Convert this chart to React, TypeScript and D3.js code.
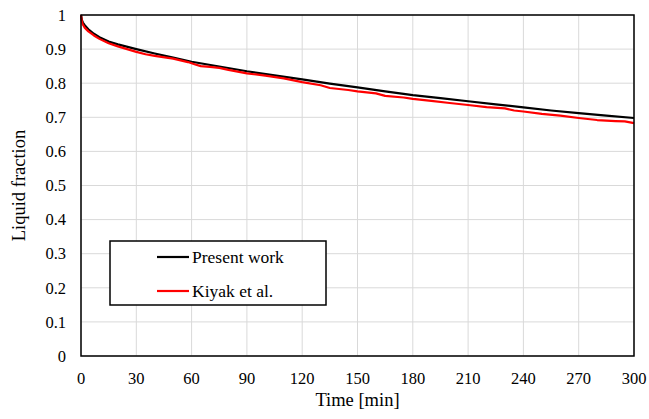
import { useRef, useEffect } from 'react';
import * as d3 from 'd3';

const W = 649;
const H = 419;
const MARGIN = { top: 15, right: 15, bottom: 63, left: 81 };

const xTicks = [0, 30, 60, 90, 120, 150, 180, 210, 240, 270, 300];
const yTicks = [0, 0.1, 0.2, 0.3, 0.4, 0.5, 0.6, 0.7, 0.8, 0.9, 1];

// Present work
const presentTime = [0, 0.5, 1, 2, 4, 7, 10, 15, 20, 30, 40, 50, 60, 75, 90, 105, 120, 135, 150, 165, 180, 195, 210, 225, 240, 255, 270, 285, 300];
const presentFrac = [1.0, 0.985, 0.978, 0.97, 0.958, 0.945, 0.935, 0.922, 0.914, 0.9, 0.887, 0.875, 0.863, 0.849, 0.835, 0.823, 0.811, 0.799, 0.788, 0.776, 0.765, 0.756, 0.747, 0.738, 0.729, 0.72, 0.712, 0.705, 0.698];

// Kiyak et al.
const kiyakTime = [0, 0.5, 1, 2, 4, 7, 10, 15, 20, 25, 30, 35, 40, 50, 58, 62, 65, 70, 75, 80, 90, 100, 110, 120, 130, 135, 145, 150, 160, 165, 175, 180, 190, 200, 210, 220, 230, 235, 240, 250, 260, 270, 280, 290, 295, 300];
const kiyakFrac = [1.0, 0.98, 0.972, 0.963, 0.952, 0.94, 0.93, 0.917, 0.908, 0.9, 0.892, 0.885, 0.88, 0.872, 0.862, 0.855, 0.85, 0.848, 0.845, 0.839, 0.829, 0.822, 0.814, 0.803, 0.794, 0.786, 0.78, 0.776, 0.77, 0.763, 0.758, 0.754, 0.748, 0.742, 0.736, 0.73, 0.726, 0.72, 0.717, 0.71, 0.705, 0.698, 0.692, 0.689, 0.688, 0.683];

const series = [
  { name: 'Present work', color: '#000000', t: presentTime, v: presentFrac },
  { name: 'Kiyak et al.', color: '#ff0000', t: kiyakTime, v: kiyakFrac },
];

export default function App() {
  const svgRef = useRef<SVGSVGElement>(null);

  useEffect(() => {
    const svg = d3.select(svgRef.current);
    svg.selectAll('*').remove();

    const w = W - MARGIN.left - MARGIN.right;
    const h = H - MARGIN.top - MARGIN.bottom;
    const g = svg.append('g').attr('transform', `translate(${MARGIN.left},${MARGIN.top})`);

    const x = d3.scaleLinear().domain([0, 300]).range([0, w]);
    const y = d3.scaleLinear().domain([0, 1]).range([h, 0]);

    // Grid
    g.selectAll('.gx').data(xTicks).enter().append('line')
      .attr('x1', d => x(d)).attr('x2', d => x(d))
      .attr('y1', 0).attr('y2', h)
      .attr('stroke', '#d9d9d9').attr('stroke-width', 1);
    g.selectAll('.gy').data(yTicks).enter().append('line')
      .attr('x1', 0).attr('x2', w)
      .attr('y1', d => y(d)).attr('y2', d => y(d))
      .attr('stroke', '#d9d9d9').attr('stroke-width', 1);

    // Tick labels
    g.selectAll('.tx').data(xTicks).enter().append('text')
      .attr('x', d => x(d)).attr('y', h + 28)
      .attr('text-anchor', 'middle')
      .attr('font-size', '16.5px').attr('fill', '#000').text(d => d);
    g.selectAll('.ty').data(yTicks).enter().append('text')
      .attr('x', -15).attr('y', d => y(d)).attr('dy', '0.35em')
      .attr('text-anchor', 'end')
      .attr('font-size', '16.5px').attr('fill', '#000').text(d => d);

    // Axis titles
    g.append('text').attr('x', w / 2).attr('y', h + 50)
      .attr('text-anchor', 'middle')
      .attr('font-size', '18.5px').attr('fill', '#000').text('Time [min]');
    g.append('text').attr('transform', 'rotate(-90)')
      .attr('x', -h / 2).attr('y', -56)
      .attr('text-anchor', 'middle')
      .attr('font-size', '18.5px').attr('fill', '#000').text('Liquid fraction');

    // Lines
    const line = d3.line<[number, number]>()
      .x(d => x(d[0])).y(d => y(d[1]));
    series.forEach(s => {
      const pts = s.t.map((t, i) => [t, s.v[i]] as [number, number]);
      g.append('path').datum(pts)
        .attr('d', line)
        .attr('fill', 'none')
        .attr('stroke', s.color)
        .attr('stroke-width', 2.2)
        .attr('stroke-linejoin', 'round');
    });

    // Plot border
    g.append('rect').attr('x', 0).attr('y', 0).attr('width', w).attr('height', h)
      .attr('fill', 'none').attr('stroke', '#000').attr('stroke-width', 1.5);

    // Legend
    const lg = svg.append('g').attr('transform', 'translate(110,241)');
    lg.append('rect').attr('width', 216).attr('height', 64)
      .attr('fill', '#fff').attr('stroke', '#000').attr('stroke-width', 1.5);
    series.forEach((s, i) => {
      const yy = 16 + i * 34;
      lg.append('line').attr('x1', 47).attr('x2', 79).attr('y1', yy).attr('y2', yy)
        .attr('stroke', s.color).attr('stroke-width', 2.2);
      lg.append('text').attr('x', 82).attr('y', yy).attr('dy', '0.35em')
        .attr('font-size', '17.5px').attr('fill', '#000')
        .text(s.name);
    });
  }, []);

  return (
    <svg ref={svgRef} width={W} height={H}
      style={{ position: 'absolute', left: 0, top: 0, background: '#fff', fontFamily: "'Liberation Serif', 'Times New Roman', Times, serif" }} />
  );
}
